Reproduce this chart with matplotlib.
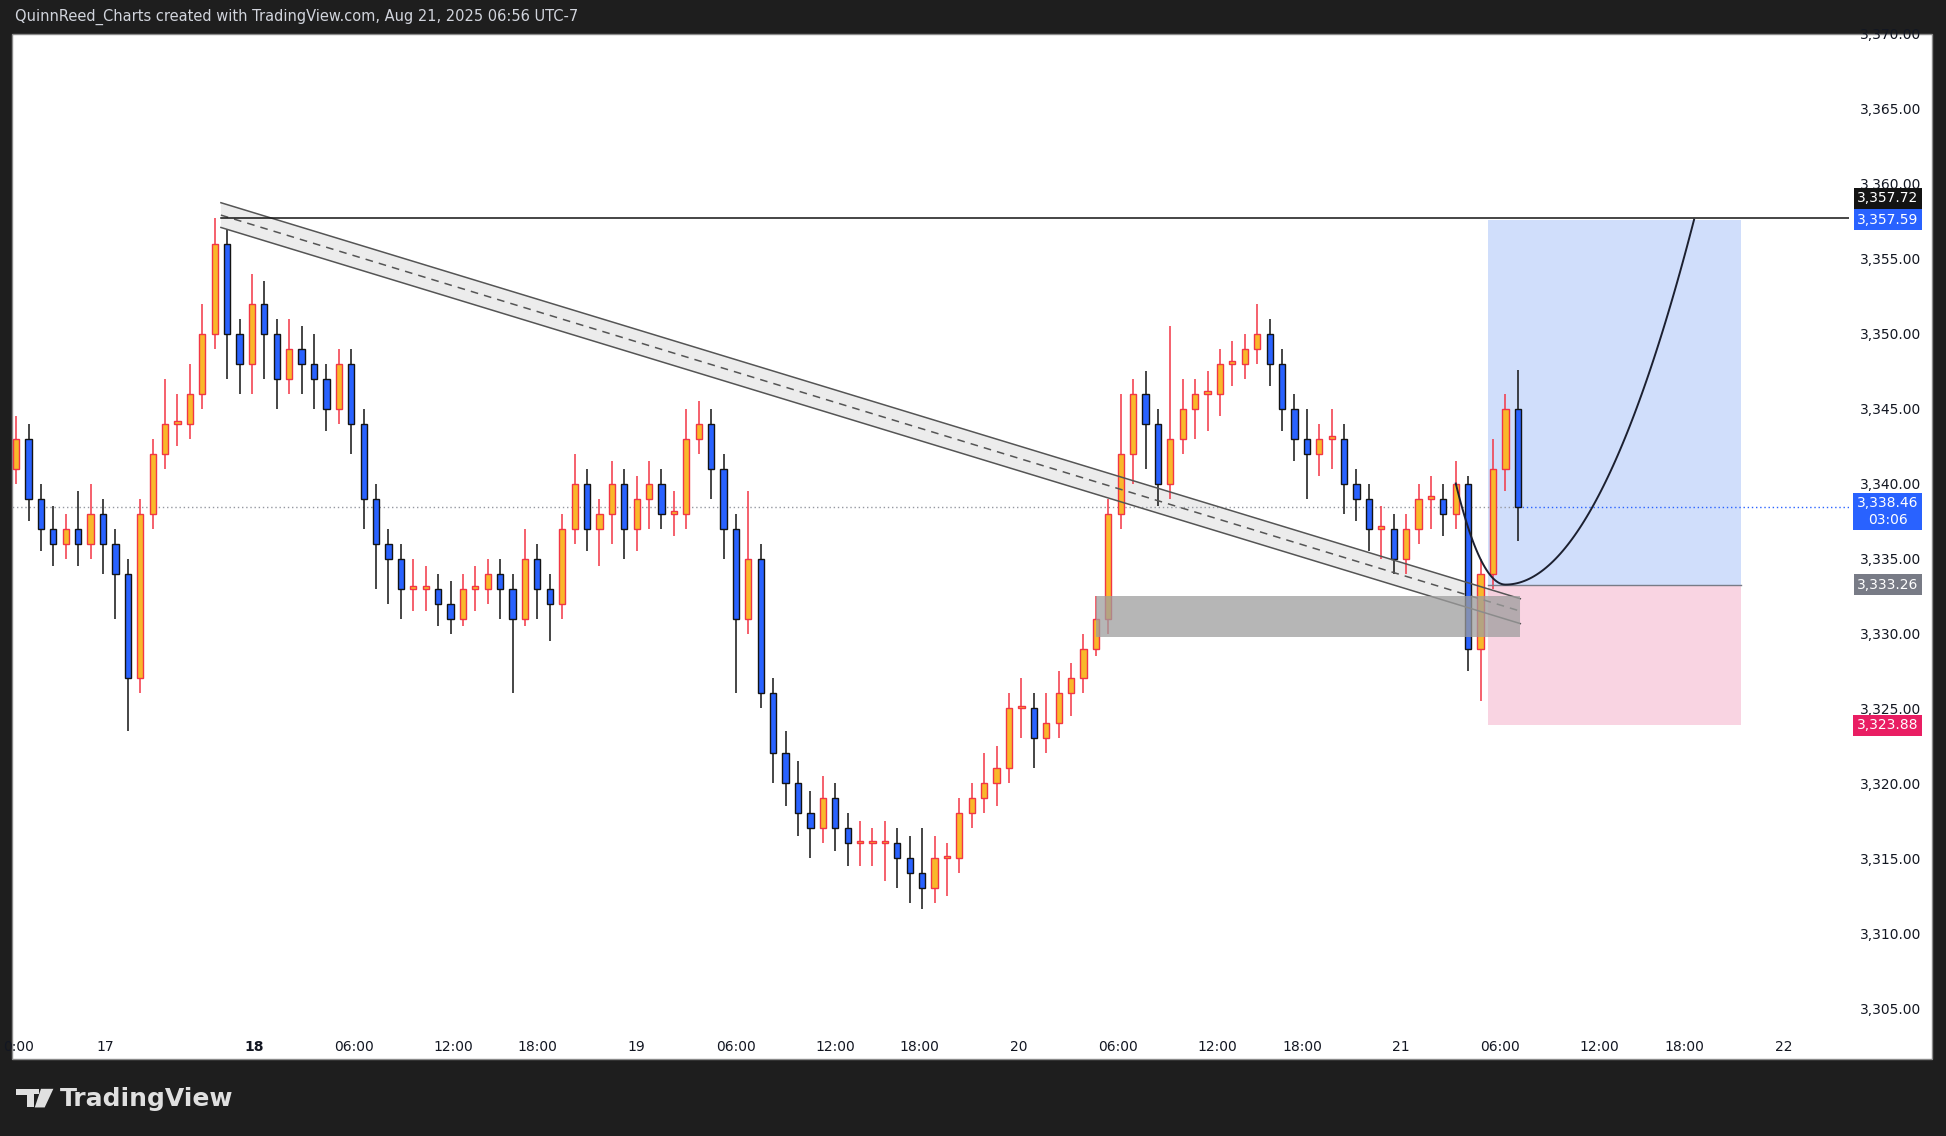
import matplotlib
matplotlib.use("Agg")
import matplotlib.pyplot as plt
from matplotlib.patches import Rectangle, Polygon
import numpy as np

# ---------------- data ----------------
closes = [3343,3339,3337,3336,3337,3336,3338,3336,3334,3327,
          3338,3342,3344,3344,3346,3350,3356,3350,3348,3352,
          3350,3347,3349,3348,3347,3345,3348,3344,3339,3336,
          3335,3333,3333,3333,3332,3331,3333,3333,3334,3333,
          3331,3335,3333,3332,3337,3340,3337,3338,3340,3337,
          3339,3340,3338,3338,3343,3344,3341,3337,3331,3335,
          3326,3322,3320,3318,3317,3319,3317,3316,3316,3316,
          3316,3315,3314,3313,3315,3315,3318,3319,3320,3321,
          3325,3325,3323,3324,3326,3327,3329,3331,3338,3342,
          3346,3344,3340,3343,3345,3346,3346,3348,3348,3349,
          3350,3348,3345,3343,3342,3343,3343,3340,3339,3337,
          3337,3335,3337,3339,3339,3338,3340,3329,3334,3341,
          3345,3338.46]
first_open = 3341
highs = [3344.5,3344,3340,3338.5,3338,3339.5,3340,3339,3337,3335,
         3339,3343,3347,3346,3348,3352,3357.7,3357,3351,3354,
         3353.5,3351,3351,3350.5,3350,3348,3349,3349,3345,3340,
         3337,3336,3335,3334.5,3334,3333.5,3334,3334.5,3335,3335,
         3334,3337,3336,3334,3338,3342,3341,3339,3341.5,3341,
         3340.5,3341.5,3341,3339.5,3345,3345.5,3345,3342,3338,3339.5,
         3336,3327,3323.5,3321.5,3319.5,3320.5,3320,3318,3317.5,3317,
         3317.5,3317,3316.5,3317,3316.5,3316,3319,3320,3322,3322.5,
         3326,3327,3326,3326,3327.5,3328,3330,3332.5,3339,3346,
         3347,3347.5,3345,3350.5,3347,3347,3347.5,3349,3349.5,3350,
         3352,3351,3349,3346,3345,3344,3345,3344,3341,3340,
         3338.5,3338,3338,3340,3340.5,3340,3341.5,3340.5,3335,3343,
         3346,3347.6]
lows = [3340,3337.5,3335.5,3334.5,3335,3334.5,3335,3334,3331,3323.5,
        3326,3337,3341,3342.5,3343,3345,3349,3347,3346,3346,
        3347,3345,3346,3346,3345,3343.5,3344,3342,3337,3333,
        3332,3331,3331.5,3331.5,3330.5,3330,3330.5,3331.5,3332,3331,
        3326,3330.5,3331,3329.5,3331,3336,3335.5,3334.5,3336,3335,
        3335.5,3337,3337,3336.5,3337,3342,3339,3335,3326,3330,
        3325,3320,3318.5,3316.5,3315,3316,3315.5,3314.5,3314.5,3314.5,
        3313.5,3313,3312,3311.6,3312,3312.5,3314,3317,3318,3318.5,
        3320,3323,3321,3322,3323,3324.5,3326,3328.5,3330,3337,
        3340,3341,3338.5,3339,3342,3343,3343.5,3344.5,3346.5,3347,
        3348,3346.5,3343.5,3341.5,3339,3340.5,3341,3338,3337.5,3335.5,
        3335,3334,3334,3336,3337,3336.5,3337,3327.5,3325.5,3333,
        3339.5,3336.2]

tick_pos = [0.2,7.2,19.2,27.2,35.2,42,50,58,66,72.8,80.8,88.8,96.8,103.6,111.6,119.6,127.6,134.4,142.4]
tick_lab = ["0:00","17","18","06:00","12:00","18:00","19","06:00","12:00","18:00",
            "20","06:00","12:00","18:00","21","06:00","12:00","18:00","22"]
bold_lab = {"18"}
price_ticks = [3305,3310,3315,3320,3325,3330,3335,3340,3345,3350,3355,3360,3365,3370]

level_res = 3357.72
tp_price = 3357.59
entry = 3333.26
stop = 3323.88
last_price = 3338.46

# ---------------- figure ----------------
W, H = 1568, 915
fig = plt.figure(figsize=(19.46, 11.36), dpi=100)
fig.patch.set_facecolor("#1e1e1e")

def fx(x): return x / W
def fy(y): return 1 - y / H

panel = Rectangle((fx(10), fy(853)), fx(1557) - fx(10), fy(27) - fy(853),
                  transform=fig.transFigure, facecolor="white",
                  edgecolor="#8a8a8a", lw=1, zorder=-10)
fig.patches.append(panel)
fig.text(fx(12), fy(14), "QuinnReed_Charts created with TradingView.com, Aug 21, 2025 06:56 UTC-7",
         color="#d1d4dc", fontsize=10.5, va="center", ha="left")
# logo mark
logo1 = Polygon([[fx(13), fy(877)], [fx(27), fy(877)], [fx(27), fy(892)], [fx(22), fy(892)],
                 [fx(22), fy(882)], [fx(13), fy(882)]], closed=True,
                transform=fig.transFigure, facecolor="#e0e0e0", edgecolor="none")
logo2 = Polygon([[fx(33), fy(877)], [fx(43), fy(877)], [fx(36), fy(892)], [fx(28), fy(892)]],
                closed=True, transform=fig.transFigure, facecolor="#e0e0e0", edgecolor="none")
fig.patches.extend([logo1, logo2])
fig.add_artist(Rectangle((fx(27.5), fy(881)), fx(4), fy(877) - fy(881),
                         transform=fig.transFigure, facecolor="#e0e0e0", edgecolor="none"))
fig.text(fx(48), fy(885), "TradingView", color="#e0e0e0", fontsize=18, fontweight="bold",
         va="center", ha="left")

ax = fig.add_axes([fx(10), fy(828), fx(1490) - fx(10), fy(27) - fy(828)])
ax.set_zorder(2)
ax.set_facecolor("none")
ax.set_xlim(-0.3, 147.7)
ax.set_ylim(3303.7, 3370.0)
for s in ax.spines.values():
    s.set_visible(False)

n = len(closes)
xs = np.arange(n)
opens = [first_open] + closes[:-1]
up_fill, up_edge = "#f9b82a", "#f23645"
dn_fill, dn_edge = "#2962ff", "#131313"
bw = 0.5
for i in range(n):
    o, c, h, l = opens[i], closes[i], highs[i], lows[i]
    up = c >= o
    fc, ec = (up_fill, up_edge) if up else (dn_fill, dn_edge)
    ax.vlines(xs[i], l, h, color=ec, lw=1.1, zorder=3)
    lo, hi = min(o, c), max(o, c)
    if hi - lo < 0.15:
        hi = lo + 0.15
    ax.add_patch(Rectangle((xs[i] - bw / 2, lo), bw, hi - lo, facecolor=fc,
                           edgecolor=ec, lw=1.0, zorder=4))

# channel
cx0, cx1 = 16.5, 121.2
top = (3358.72, 3332.32)
bot = (3357.07, 3330.66)
ax.add_patch(Polygon([[cx0, top[0]], [cx1, top[1]], [cx1, bot[1]], [cx0, bot[0]]],
                     closed=True, facecolor="#e0e0e0", alpha=0.6, edgecolor="none", zorder=1))
ax.plot([cx0, cx1], top, color="#555555", lw=1.1, zorder=5)
ax.plot([cx0, cx1], bot, color="#555555", lw=1.1, zorder=5)
ax.plot([cx0, cx1], [(top[0] + bot[0]) / 2, (top[1] + bot[1]) / 2], color="#555555",
        lw=1.1, ls=(0, (5, 4)), zorder=5)

# demand zone
ax.add_patch(Rectangle((87, 3329.75), 121.2 - 87, 3332.48 - 3329.75, facecolor="#9e9e9e",
                       alpha=0.75, edgecolor="none", zorder=6))

# position boxes
bx0, bx1 = 118.6, 139.0
ax.add_patch(Rectangle((bx0, entry), bx1 - bx0, tp_price - entry, facecolor="#c5d6fb",
                       alpha=0.8, edgecolor="none", zorder=2))
ax.add_patch(Rectangle((bx0, stop), bx1 - bx0, entry - stop, facecolor="#f8cadb",
                       alpha=0.8, edgecolor="none", zorder=2))
ax.plot([bx0, bx1], [entry, entry], color="#787b86", lw=1, zorder=3)

# resistance line
ax.plot([16.5, 148], [level_res, level_res], color="#131313", lw=1.1, zorder=5)
# last price dotted line
ax.plot([-1, 121], [last_price, last_price], color="#9598a1", lw=1, ls=(0, (1, 2)), zorder=2.5)
ax.plot([121, 148], [last_price, last_price], color="#2962ff", lw=1, ls=(0, (1, 2)), zorder=2.5)

# projected curve
t1 = np.linspace(116, 120, 30)
t2 = np.linspace(120, 135.2, 80)
p1 = entry + (3340 - entry) / 16 * (t1 - 120) ** 2
p2 = entry + (tp_price - entry) / (15.2 ** 2) * (t2 - 120) ** 2
ax.plot(np.r_[t1, t2], np.r_[p1, p2], color="#1c2030", lw=1.4, zorder=7)

# axes ticks
ax.set_xticks(tick_pos)
ax.set_xticklabels(tick_lab)
for lab in ax.get_xticklabels():
    lab.set_fontsize(10)
    lab.set_color("#131722")
    if lab.get_text() in bold_lab:
        lab.set_fontweight("bold")
ax.tick_params(axis="x", length=0, pad=9)
ax.yaxis.tick_right()
ax.set_yticks(price_ticks)
ax.set_yticklabels([f"{p:,.2f}" for p in price_ticks])
ax.tick_params(axis="y", length=0, pad=8, labelsize=10, labelcolor="#131722")

fig.canvas.draw()

def yfig_of(price):
    y = ax.transData.transform((0, price))[1]
    return fig.transFigure.inverted().transform((0, y))[1]

def tag(yf, text, color, va="center"):
    fig.text(fx(1521), yf, text, color="white", fontsize=10, ha="center", va=va,
             linespacing=1.2, zorder=10,
             bbox=dict(boxstyle="square,pad=0.25", facecolor=color, edgecolor="none"))

tag(yfig_of(level_res) + 0.017, f"{level_res:,.2f}", "#131313")
tag(yfig_of(tp_price), f"{tp_price:,.2f}", "#2962ff")
tag(yfig_of(last_price) + 0.009, f"{last_price:,.2f}\n03:06", "#2962ff", va="top")
tag(yfig_of(entry), f"{entry:,.2f}", "#787b86")
tag(yfig_of(stop), f"{stop:,.2f}", "#e91e63")

fig.savefig("out.png", dpi=100, facecolor=fig.get_facecolor())
